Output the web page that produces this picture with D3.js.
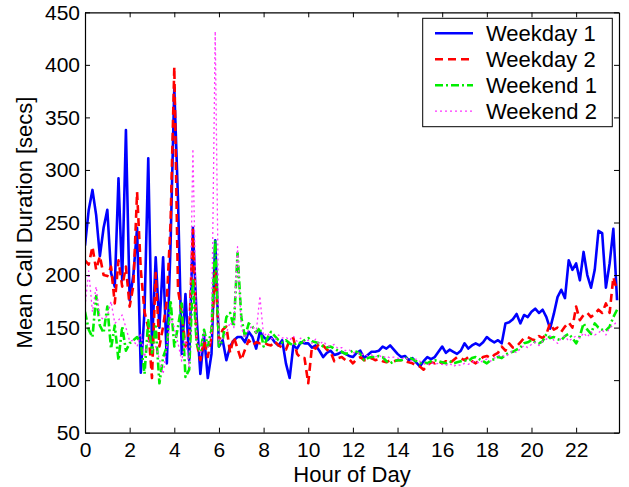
<!DOCTYPE html>
<html>
<head>
<meta charset="utf-8">
<script src="https://cdn.jsdelivr.net/npm/d3@7/dist/d3.min.js"></script>
<style>
body { margin: 0; background: #fff; }
svg { font-family: "Liberation Sans", Arial, Helvetica, sans-serif; }
</style>
</head>
<body>
<div id="chart"></div>
<script>
// one value every 10 minutes, hour by hour (6 per row)
var weekday1 = [
    228, 262, 281, 257, 218, 245,
    262, 202, 189, 292, 195, 338,
    176, 200, 245, 107, 166, 311,
    132, 217, 150, 217, 116, 230,
    378, 271, 125, 182, 119, 245,
    160, 106, 143, 102, 125, 233,
    132, 138, 119, 132, 138, 141,
    141, 136, 146, 141, 130, 146,
    141, 138, 141, 136, 133, 138,
    116, 102, 133, 130, 136, 135,
    135, 131, 133, 128, 122, 126,
    128, 124, 125, 127, 125, 123,
    122, 126, 128, 121, 124, 127,
    127, 128, 132, 130, 133, 129,
    125, 122, 123, 119, 121, 117,
    113, 118, 122, 120, 122, 127,
    132, 126, 129, 127, 125, 128,
    135, 130, 133, 135, 133, 136,
    141, 138, 136, 138, 135, 154,
    155, 158, 163, 154, 162, 160,
    165, 168, 164, 167, 160, 149,
    163, 179, 186, 178, 214, 205,
    211, 195, 222, 200, 188, 205,
    242, 240, 188, 211, 244, 176
];
var weekday2 = [
    214, 210, 227, 205, 218, 200,
    199, 208, 173, 214, 189, 208,
    170, 190, 279, 205, 165, 150,
    102, 202, 132, 151, 176, 250,
    398, 186, 164, 132, 145, 243,
    136, 119, 138, 122, 141, 205,
    138, 148, 151, 126, 141, 130,
    119, 129, 138, 133, 136, 135,
    136, 134, 133, 137, 133, 131,
    129, 138, 140, 125, 121, 121,
    97, 132, 130, 135, 133, 129,
    127, 118, 121, 122, 119, 120,
    116, 120, 122, 119, 119, 121,
    119, 120, 118, 117, 119, 118,
    119, 119, 118, 117, 116, 114,
    113, 110, 114, 117, 116, 118,
    116, 118, 116, 119, 122, 121,
    119, 122, 118, 116, 119, 122,
    123, 121, 124, 126, 132, 128,
    135, 131, 132, 136, 140, 141,
    139, 138, 142, 140, 144, 154,
    148, 150, 146, 151, 155, 150,
    170, 157, 162, 164, 160, 163,
    167, 164, 173, 164, 198, 185
];
var weekend1 = [
    165, 148, 141, 180, 152, 145,
    170, 130, 152, 119, 151, 128,
    135, 138, 141, 135, 106, 157,
    126, 151, 97, 122, 132, 176,
    132, 151, 173, 103, 110, 196,
    135, 126, 148, 132, 148, 233,
    132, 138, 160, 164, 151, 221,
    160, 141, 154, 151, 145, 150,
    132, 140, 146, 142, 138, 136,
    138, 135, 133, 136, 135, 138,
    140, 137, 136, 135, 132, 131,
    132, 130, 128, 127, 125, 126,
    128, 127, 125, 119, 121, 122,
    122, 123, 122, 118, 116, 118,
    119, 119, 120, 122, 120, 118,
    116, 117, 116, 118, 119, 118,
    117, 116, 118, 116, 117, 118,
    119, 118, 121, 122, 120, 118,
    116, 119, 120, 122, 121, 124,
    126, 127, 129, 131, 135, 136,
    138, 136, 135, 137, 144, 140,
    141, 139, 138, 142, 144, 140,
    135, 142, 154, 148, 144, 154,
    150, 148, 147, 151, 160, 167
];
var weekend2 = [
    170, 204, 165, 189, 160, 158,
    161, 175, 154, 157, 162, 150,
    137, 138, 132, 145, 122, 138,
    129, 132, 120, 106, 132, 160,
    150, 135, 118, 140, 112, 320,
    140, 125, 145, 131, 138, 432,
    135, 140, 145, 155, 150, 227,
    150, 140, 148, 152, 145, 180,
    142, 145, 140, 138, 143, 140,
    141, 138, 142, 137, 140, 136,
    138, 135, 139, 134, 137, 133,
    132, 134, 130, 131, 128, 129,
    126, 127, 124, 125, 123, 124,
    122, 124, 121, 123, 121, 122,
    121, 120, 122, 119, 118, 120,
    118, 116, 114, 117, 115, 116,
    115, 114, 116, 113, 115, 114,
    116, 115, 117, 118, 116, 119,
    120, 118, 121, 123, 124, 122,
    125, 128, 126, 130, 133, 131,
    134, 136, 133, 137, 139, 142,
    138, 135, 140, 142, 137, 140,
    142, 140, 145, 141, 146, 143,
    145, 148, 143, 150, 152, 156
];
var seriesNames = ["Weekday 1", "Weekday 2", "Weekend 1", "Weekend 2"];
var xTicks = [0, 2, 4, 6, 8, 10, 12, 14, 16, 18, 20, 22];
var yTicks = [50, 100, 150, 200, 250, 300, 350, 400, 450];

var width = 629;
var height = 487;
var plotLeft = 85, plotRight = 619, plotTop = 12.3, plotBottom = 432.7;

var styles = [
    { color: "#0000ff", width: 2.6, dash: null },
    { color: "#ff0000", width: 2.6, dash: "8,5" },
    { color: "#00ee00", width: 2.6, dash: "8,3,2,3" },
    { color: "#ff33ff", width: 1.3, dash: "2,3" }
];

var x = d3.scaleLinear().domain([0, 23.92]).range([plotLeft, plotRight]);
var y = d3.scaleLinear().domain([50, 450]).range([plotBottom, plotTop]);

var svg = d3.select("#chart").append("svg")
    .attr("width", width)
    .attr("height", height);

svg.append("defs").append("clipPath")
    .attr("id", "plotclip")
    .append("rect")
    .attr("x", plotLeft)
    .attr("y", plotTop)
    .attr("width", plotRight - plotLeft)
    .attr("height", plotBottom - plotTop);

var line = d3.line()
    .x(function (d, i) { return x(i / 6); })
    .y(function (d) { return y(d); });

var allSeries = [weekday1, weekday2, weekend1, weekend2];
var lines = svg.append("g").attr("clip-path", "url(#plotclip)");
for (var s = 0; s < allSeries.length; s++) {
    lines.append("path")
        .attr("d", line(allSeries[s]))
        .attr("fill", "none")
        .attr("stroke", styles[s].color)
        .attr("stroke-width", styles[s].width)
        .attr("stroke-dasharray", styles[s].dash)
        .attr("stroke-linejoin", "round");
}

// axes, ticks pointing inward on all four sides
var tickFont = "21px";
var labelFont = "22px";
var gx = svg.append("g")
    .attr("transform", "translate(0," + plotBottom + ")")
    .call(d3.axisBottom(x).tickValues(xTicks).tickSizeInner(-5).tickSizeOuter(0).tickPadding(9));
var gy = svg.append("g")
    .attr("transform", "translate(" + plotLeft + ",0)")
    .call(d3.axisLeft(y).tickValues(yTicks).tickSizeInner(-5).tickSizeOuter(0).tickPadding(5));
var gt = svg.append("g")
    .attr("transform", "translate(0," + plotTop + ")")
    .call(d3.axisTop(x).tickValues(xTicks).tickSizeInner(-5).tickSizeOuter(0).tickFormat(""));
var gr = svg.append("g")
    .attr("transform", "translate(" + plotRight + ",0)")
    .call(d3.axisRight(y).tickValues(yTicks).tickSizeInner(-5).tickSizeOuter(0).tickFormat(""));

[gx, gy, gt, gr].forEach(function (g) {
    g.select(".domain").attr("stroke", "#000").attr("stroke-width", 1.2);
    g.selectAll(".tick line").attr("stroke", "#000").attr("stroke-width", 1);
    g.selectAll("text")
        .attr("fill", "#000")
        .style("font-size", tickFont)
        .style("font-family", "'Liberation Sans', Arial, sans-serif");
});

svg.append("text")
    .attr("x", (plotLeft + plotRight) / 2)
    .attr("y", 482)
    .attr("text-anchor", "middle")
    .style("font-size", labelFont)
    .text("Hour of Day");

svg.append("text")
    .attr("transform", "translate(32," + (plotTop + plotBottom) / 2 + ") rotate(-90)")
    .attr("text-anchor", "middle")
    .style("font-size", labelFont)
    .text("Mean Call Duration [secs]");

// legend
var legend = svg.append("g");
legend.append("rect")
    .attr("x", 422.7)
    .attr("y", 18.3)
    .attr("width", 189.6)
    .attr("height", 108.4)
    .attr("fill", "#fff")
    .attr("stroke", "#000")
    .attr("stroke-width", 1);
for (var k = 0; k < seriesNames.length; k++) {
    var baseY = 40.7 + k * 26;
    legend.append("line")
        .attr("x1", 435)
        .attr("x2", 473)
        .attr("y1", baseY - 7.5)
        .attr("y2", baseY - 7.5)
        .attr("stroke", styles[k].color)
        .attr("stroke-width", styles[k].width)
        .attr("stroke-dasharray", styles[k].dash);
    legend.append("text")
        .attr("x", 486)
        .attr("y", baseY)
        .style("font-size", labelFont)
        .text(seriesNames[k]);
}
</script>
</body>
</html>
